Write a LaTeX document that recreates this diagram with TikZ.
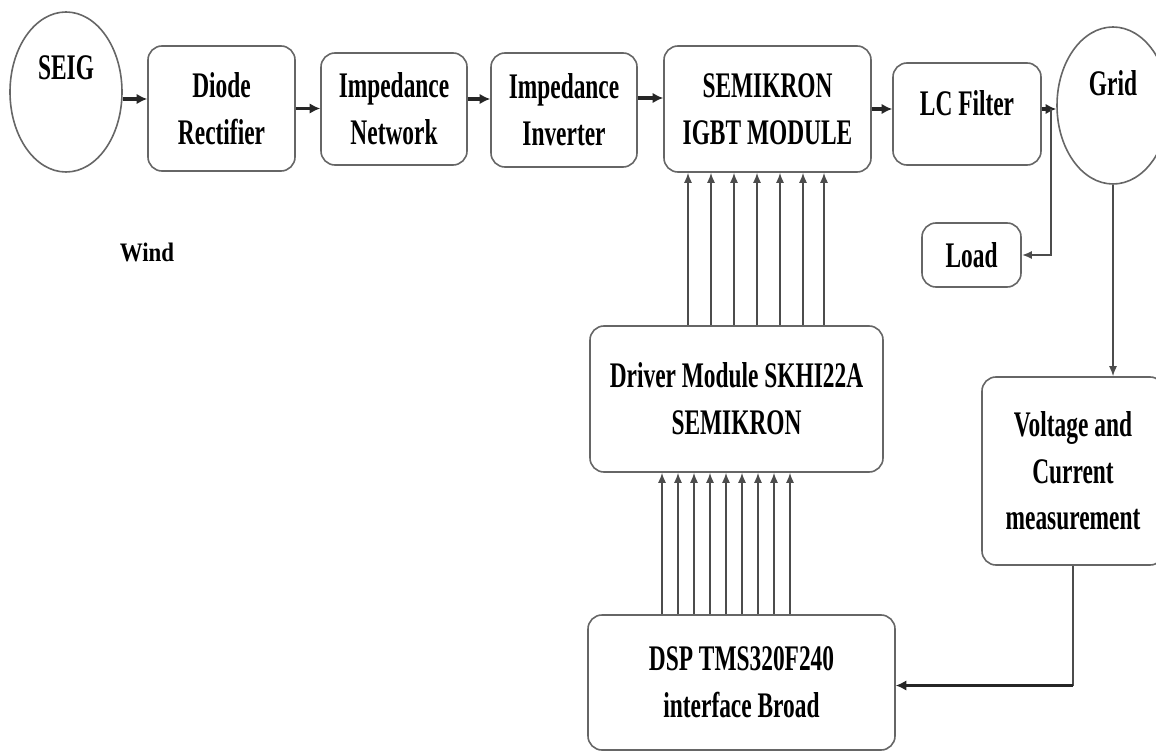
\documentclass[tikz,border=0pt]{standalone}
\usepackage{fontspec}
\setmainfont{Liberation Serif}
\newfontfamily\blockfont{Liberation Serif}[FakeStretch=0.65]
\newfontfamily\windfont{Liberation Serif}[FakeStretch=0.86]
\usepackage{tikz}
\usetikzlibrary{positioning, shapes, arrows.meta, calc}
\newlength\pxu
\setlength\pxu{0.75pt}

\begin{document}
\begin{tikzpicture}[
        x=0.75pt, y=-0.75pt,
        block/.style={draw=black!60, line width=1.2pt, rounded corners=14\pxu,
            inner sep=0pt, align=center,
            font=\blockfont\bfseries\fontsize{27}{35}\selectfont},
        oval/.style={ellipse, draw=black!60, line width=1.2pt, inner sep=0pt,
            font=\blockfont\bfseries\fontsize{27}{35}\selectfont},
        feed/.style={draw=black!85, line width=2.4pt, -{Latex[length=8pt, width=8pt]}},
        link/.style={draw=black!70, line width=1.1pt, -{Latex[length=7.5pt, width=6pt]}},
        wire/.style={draw=black!70, line width=1.1pt},
    ]
    \useasboundingbox (0,0) rectangle (1156,752);

    % power path
    \node[oval, minimum width=112\pxu, minimum height=160\pxu, text depth=36pt] (seig) at (66,92) {SEIG};
    \node[block, minimum width=147\pxu, minimum height=125\pxu] (diode) at (221.5,108.5) {Diode\\Rectifier};
    \node[block, minimum width=146\pxu, minimum height=112\pxu] (impnet) at (394,109) {Impedance\\Network};
    \node[block, minimum width=146\pxu, minimum height=114\pxu] (impinv) at (564,110) {Impedance\\Inverter};
    \node[block, minimum width=207\pxu, minimum height=126\pxu] (igbt) at (767.5,109) {SEMIKRON\\IGBT MODULE};
    \node[block, minimum width=148\pxu, minimum height=102\pxu, text depth=16.5pt] (lc) at (967,114) {LC Filter};
    \node[oval, minimum width=112\pxu, minimum height=157\pxu, text depth=34pt] (grid) at (1113,105.5) {Grid};
    \node[block, minimum width=99\pxu, minimum height=64\pxu] (load) at (971.5,255) {Load};
    \node[font=\windfont\bfseries\fontsize{20}{24}\selectfont] (wind) at (147,252) {Wind};

    % control path
    \node[block, minimum width=293\pxu, minimum height=146\pxu] (driver) at (736.5,399) {Driver Module SKHI22A\\SEMIKRON};
    \node[block, minimum width=307\pxu, minimum height=135\pxu] (dsp) at (741.5,682.5) {DSP TMS320F240\\interface Broad};
    \node[block, minimum width=182\pxu, minimum height=188\pxu] (meas) at (1073,471) {Voltage and\\Current\\measurement};

    \draw[feed] ($(seig.east)+(0,7)$) -- ($(seig.east -| diode.west)+(0,7)$);
    \draw[feed] (diode.east) -- (diode.east -| impnet.west);
    \draw[feed] ($(impnet.east)+(0,-10)$) -- ($(impnet.east -| impinv.west)+(0,-10)$);
    \draw[feed] ($(impinv.east)+(0,-12)$) -- ($(impinv.east -| igbt.west)+(0,-12)$);
    \draw[feed] (igbt.east) -- (igbt.east -| lc.west);
    \coordinate (split) at ($(lc.east)+(9,-5)$);
    \draw[feed] ($(lc.east)+(0,-5)$) -- (split -| grid.west);
    \draw[link, line width=1.6pt] (split) |- (load.east);

    % gate signals
    \foreach \x in {688,711,734,757,780,803,824}
        \draw[link] (driver.north -| \x,0) -- (igbt.south -| \x,0);
    \foreach \x in {662,678,694,710,726,742,758,774,790}
        \draw[link] (dsp.north -| \x,0) -- (driver.south -| \x,0);

    % measurement feedback
    \draw[link] (grid.south) -- (grid.south |- meas.north);
    \coordinate (bend) at ($(meas.south |- dsp.east)+(0,3)$);
    \draw[wire] (meas.south) -- (bend);
    \draw[feed] (bend) -- (bend -| dsp.east);
\end{tikzpicture}
\end{document}
